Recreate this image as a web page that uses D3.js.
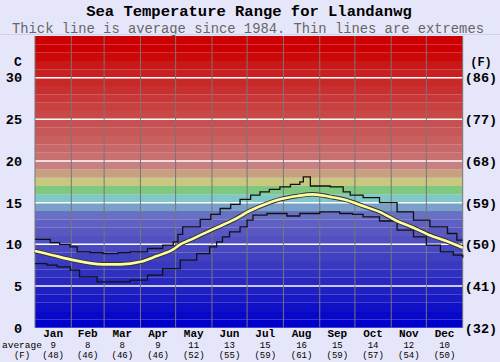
<!DOCTYPE html>
<html>
<head>
<meta charset="utf-8">
<script src="https://cdn.jsdelivr.net/npm/d3@7"></script>
<style>
  body { margin: 0; background: #e6e6fa; }
  svg { display: block; }
  text { font-family: "Liberation Mono", "DejaVu Sans Mono", monospace; }
</style>
</head>
<body>
<div id="chart"></div>
<script>
// month labels and days in each month
var months = ["Jan", "Feb", "Mar", "Apr", "May", "Jun", "Jul", "Aug", "Sep", "Oct", "Nov", "Dec"];
var monthDays = [31, 28, 31, 30, 31, 30, 31, 31, 30, 31, 30, 31];
var avgC = ["9", "8", "8", "9", "11", "13", "15", "16", "15", "14", "12", "10"];
var avgF = ["(48)", "(46)", "(46)", "(46)", "(52)", "(55)", "(59)", "(61)", "(59)", "(57)", "(54)", "(50)"];

// background band colours, one per degree from 0 up to 35
var bandColors = [
    "#0000cc", "#0808c8", "#1010c6", "#1818c4", "#2020c2", "#2828c0", "#3030c0", "#3838c0",
    "#4040c0", "#4848c0", "#5050c0", "#5858c0", "#6060c4", "#6870c4", "#78a0c8", "#80c8c8",
    "#80c880", "#c8c880", "#c8a080", "#c88080", "#c87070", "#c86868", "#c86060", "#c85858",
    "#c85050", "#c84848", "#c84040", "#c83838", "#c83030", "#c82828", "#c82020", "#c81818",
    "#cc0808", "#cc0000", "#cc0000"
];

var cTicks = [0, 5, 10, 15, 20, 25, 30];

// day of year, average temperature (C)
var avgDays = [0, 15, 30, 58, 73, 90, 104, 118, 124, 132, 141, 155, 169, 183, 198, 209, 224, 237, 252, 266, 280, 294, 309, 323, 337, 351, 365];
var avgVals = [9.2, 8.7, 8.2, 7.6, 7.6, 7.9, 8.6, 9.4, 10.0, 10.5, 11.1, 12.0, 12.9, 14.0, 14.9, 15.4, 15.8, 16.0, 15.7, 15.3, 14.6, 13.9, 12.8, 12.0, 11.1, 10.4, 9.6];

// highest recorded
var maxDays = [0, 13, 21, 30, 36, 47, 58, 71, 81, 96, 109, 118, 122, 126, 141, 150, 158, 167, 175, 184, 192, 200, 209, 218, 226, 229, 235, 252, 263, 269, 280, 294, 309, 323, 337, 352, 360, 365];
var maxVals = [10.6, 10.2, 10.0, 9.7, 9.1, 9.0, 8.9, 9.0, 9.1, 9.5, 9.9, 10.3, 11.2, 12.1, 13.0, 13.6, 14.3, 14.8, 15.4, 15.9, 16.3, 16.6, 16.9, 17.2, 17.5, 18.1, 17.0, 16.9, 16.3, 15.9, 15.6, 15.0, 13.9, 12.9, 12.1, 11.3, 10.5, 10.5];

// lowest recorded
var minDays = [0, 10, 19, 30, 38, 53, 64, 81, 96, 109, 124, 138, 149, 155, 160, 166, 175, 181, 186, 198, 215, 226, 243, 260, 271, 280, 294, 309, 323, 334, 346, 357, 365];
var minVals = [7.7, 7.5, 7.3, 6.9, 6.1, 5.5, 5.5, 5.7, 6.3, 7.1, 8.1, 8.9, 9.7, 10.3, 10.9, 11.5, 12.1, 12.9, 13.5, 13.7, 13.4, 13.7, 13.9, 13.7, 13.6, 13.3, 12.8, 11.7, 10.9, 9.9, 9.1, 8.7, 8.4];

var width = 500, height = 362;
var plotLeft = 35, plotRight = 462.7, plotTop = 36, plotBottom = 327.7;

var svg = d3.select("#chart").append("svg")
    .attr("width", width)
    .attr("height", height);

var x = d3.scaleLinear().domain([0, 365]).range([plotLeft, plotRight]);
var y = d3.scaleLinear().domain([0, 35]).range([plotBottom, plotTop]);

// month start days
var monthStart = [0];
monthDays.forEach(function (d, i) { monthStart.push(monthStart[i] + d); });

// title
svg.append("text")
    .attr("x", 249).attr("y", 16)
    .attr("text-anchor", "middle")
    .style("font-size", "15.5px").style("font-weight", "bold")
    .text("Sea Temperature Range for Llandanwg");
svg.append("text")
    .attr("x", 248).attr("y", 32.5)
    .attr("text-anchor", "middle")
    .style("font-size", "13.8px").attr("fill", "#666")
    .text("Thick line is average since 1984. Thin lines are extremes");

svg.append("line")
    .attr("x1", 0).attr("x2", width).attr("y1", 34.5).attr("y2", 34.5)
    .attr("stroke", "#d0d0e8");

// colour bands
svg.append("g").selectAll("rect")
    .data(bandColors)
    .join("rect")
    .attr("x", plotLeft)
    .attr("width", plotRight - plotLeft)
    .attr("y", function (d, i) { return y(i + 1); })
    .attr("height", function (d, i) { return y(i) - y(i + 1); })
    .attr("fill", function (d) { return d; });

// white lines every 5 degrees
svg.append("g").selectAll("line")
    .data(cTicks.slice(1))
    .join("line")
    .attr("x1", plotLeft).attr("x2", plotRight)
    .attr("y1", function (d) { return y(d); })
    .attr("y2", function (d) { return y(d); })
    .attr("stroke", "#fff").attr("stroke-width", 1.5);

// month dividers
svg.append("g").selectAll("line")
    .data(monthStart)
    .join("line")
    .attr("x1", function (d) { return x(d); })
    .attr("x2", function (d) { return x(d); })
    .attr("y1", plotTop).attr("y2", plotBottom)
    .attr("stroke", "#777").attr("stroke-width", 1);

// extremes
function series(days, vals) {
    return days.map(function (d, i) { return [d, vals[i]]; });
}
var stepLine = d3.line()
    .x(function (d) { return x(d[0]); })
    .y(function (d) { return y(d[1]); })
    .curve(d3.curveStepAfter);

svg.append("path")
    .datum(series(maxDays, maxVals))
    .attr("d", stepLine)
    .attr("fill", "none").attr("stroke", "#111").attr("stroke-width", 1.3);
svg.append("path")
    .datum(series(minDays, minVals))
    .attr("d", stepLine)
    .attr("fill", "none").attr("stroke", "#111").attr("stroke-width", 1.3);

// average
var avgLine = d3.line()
    .x(function (d) { return x(d[0]); })
    .y(function (d) { return y(d[1]); })
    .curve(d3.curveMonotoneX);
svg.append("path")
    .datum(series(avgDays, avgVals))
    .attr("d", avgLine)
    .attr("fill", "none").attr("stroke", "#333").attr("stroke-width", 4.5);
svg.append("path")
    .datum(series(avgDays, avgVals))
    .attr("d", avgLine)
    .attr("fill", "none").attr("stroke", "#ffffa0").attr("stroke-width", 2.6);

// left axis (C)
var yLeft = svg.append("g")
    .attr("transform", "translate(" + (plotLeft - 13) + ",0)")
    .call(d3.axisLeft(y).tickValues(cTicks).tickSize(0).tickPadding(0));
yLeft.select(".domain").remove();
yLeft.selectAll("text")
    .style("font-family", "'Liberation Mono', monospace")
    .style("font-size", "13.5px").style("font-weight", "bold").attr("fill", "#000");

svg.append("text")
    .attr("x", 18).attr("y", 66)
    .attr("text-anchor", "middle")
    .style("font-size", "13px").style("font-weight", "bold")
    .text("C");

// right axis (F)
var yRight = svg.append("g")
    .attr("transform", "translate(" + (plotRight + 2) + ",0)")
    .call(d3.axisRight(y).tickValues(cTicks).tickSize(0).tickPadding(0)
        .tickFormat(function (d) { return "(" + Math.round(d * 9 / 5 + 32) + ")"; }));
yRight.select(".domain").remove();
yRight.selectAll("text")
    .style("font-family", "'Liberation Mono', monospace")
    .style("font-size", "13.5px").style("font-weight", "bold").attr("fill", "#000");

svg.append("text")
    .attr("x", 481).attr("y", 66)
    .attr("text-anchor", "middle")
    .style("font-size", "12px").style("font-weight", "bold")
    .text("(F)");

// month labels and averages
var mid = months.map(function (m, i) { return x(monthStart[i] + monthDays[i] / 2); });
var labels = svg.append("g");
labels.selectAll("text.month")
    .data(months)
    .join("text")
    .attr("class", "month")
    .attr("x", function (d, i) { return mid[i]; })
    .attr("y", 336.5)
    .attr("text-anchor", "middle")
    .style("font-size", "11px").style("font-weight", "bold")
    .text(function (d) { return d; });
labels.selectAll("text.avgc")
    .data(avgC)
    .join("text")
    .attr("class", "avgc")
    .attr("x", function (d, i) { return mid[i]; })
    .attr("y", 347.5)
    .attr("text-anchor", "middle")
    .style("font-size", "9px")
    .text(function (d) { return d; });
labels.selectAll("text.avgf")
    .data(avgF)
    .join("text")
    .attr("class", "avgf")
    .attr("x", function (d, i) { return mid[i]; })
    .attr("y", 357.5)
    .attr("text-anchor", "middle")
    .style("font-size", "9px")
    .text(function (d) { return d; });

svg.append("text")
    .attr("x", 2).attr("y", 347.5)
    .style("font-size", "9.5px")
    .text("average");
svg.append("text")
    .attr("x", 22).attr("y", 357.5)
    .attr("text-anchor", "middle")
    .style("font-size", "9px")
    .text("(F)");
</script>
</body>
</html>
